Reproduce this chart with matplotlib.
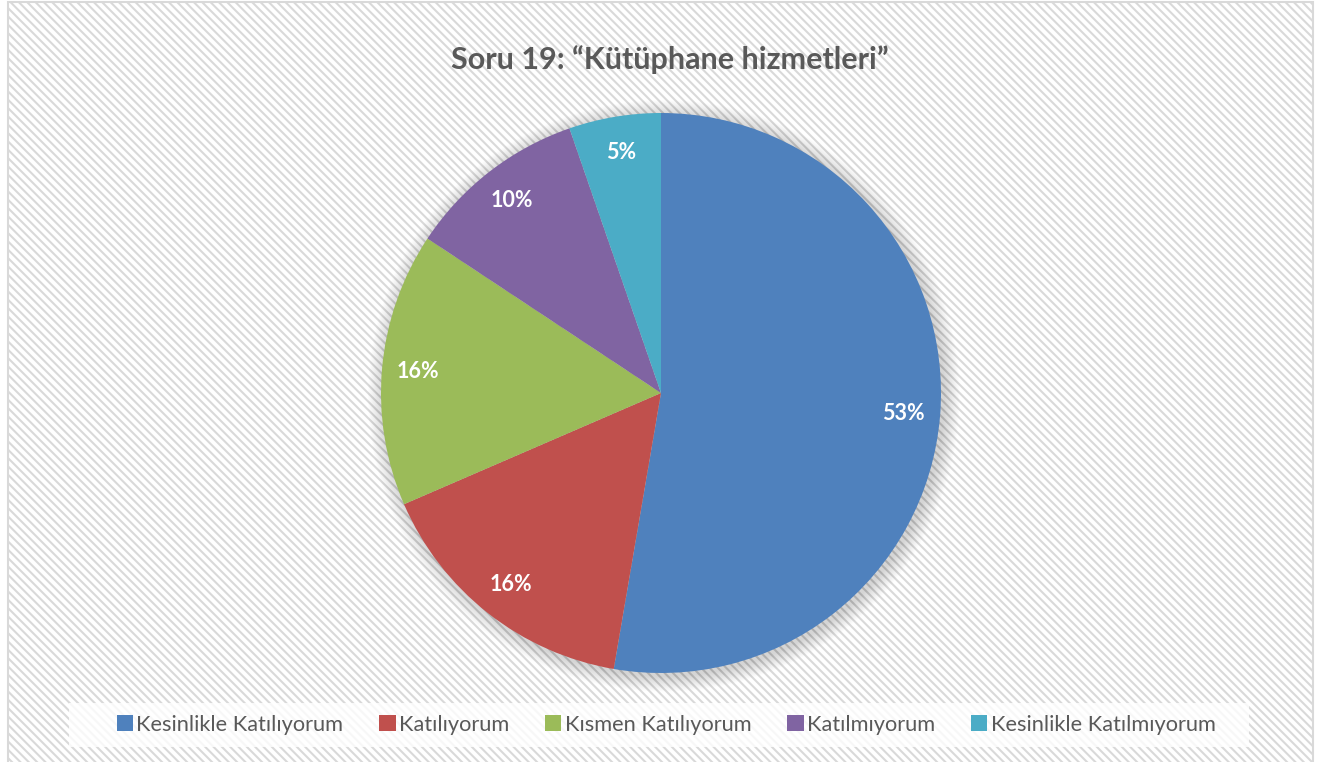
import matplotlib.pyplot as plt
from matplotlib.patches import Rectangle, Circle

plt.rcParams['font.family'] = ['Lato', 'DejaVu Sans']
plt.rcParams['hatch.linewidth'] = 1.5
plt.rcParams['hatch.color'] = '#f6f6f6'

# Data
categories = ["Kesinlikle Katılıyorum", "Katılıyorum", "Kısmen Katılıyorum",
              "Katılmıyorum", "Kesinlikle Katılmıyorum"]
values = [52.7, 15.8, 15.8, 10.4, 5.3]
colors = ["#4F81BD", "#C0504D", "#9BBB59", "#8064A2", "#4BACC6"]
title = "Soru 19: \u201cKütüphane hizmetleri\u201d"

W, H = 1317, 762
fig = plt.figure(figsize=(W / 100, H / 100), dpi=100)
fig.patch.set_facecolor("white")

# hatched chart background with light border
bg = Rectangle((8 / W, -0.01), (1313 - 8) / W, 1 - 2 / H + 0.01, transform=fig.transFigure,
               facecolor="white", edgecolor="#d9d9d9", linewidth=1.5, hatch="\\\\\\\\",
               zorder=-10)
fig.patches.append(bg)

# legend backdrop
leg_bg = Rectangle((69 / W, 1 - 747 / H), (1249 - 69) / W, 44 / H, transform=fig.transFigure,
                   facecolor="white", edgecolor="none", alpha=0.8, zorder=-5)
fig.patches.append(leg_bg)

fig.text(670 / W, 1 - 60 / H, title, ha="center", va="center", fontsize=22,
         fontweight="bold", color="#595959")

# pie axes: center (661, 393), radius 280 px, limits +/-1.1
cx, cy, r = 661, 393, 280
lim = 1.1
half = r * lim
ax = fig.add_axes([(cx - half) / W, (H - cy - half) / H, 2 * half / W, 2 * half / H])
ax.set_facecolor("none")

# soft shadow
for i in range(14):
    ax.add_patch(Circle((0.01, -0.01), 1 + 0.004 * (14 - i), facecolor="black",
                        edgecolor="none", alpha=0.012, zorder=0))

wedges, texts, autotexts = ax.pie(values, colors=colors, startangle=90, counterclock=False,
                                  autopct="%.0f%%", pctdistance=0.87, radius=1,
                                  wedgeprops=dict(linewidth=0),
                                  textprops=dict(color="white", fontsize=15.5, fontweight="bold"))
for w in wedges:
    w.set_zorder(2)
for t in autotexts:
    t.set_zorder(3)
ax.set_xlim(-lim, lim)
ax.set_ylim(-lim, lim)
ax.set_aspect("equal")
ax.axis("off")

leg = fig.legend(wedges, categories, loc="center", bbox_to_anchor=(666 / W, 1 - 725 / H),
                 ncol=5, frameon=False, fontsize=15.7, handlelength=0.75, handleheight=0.75,
                 handletextpad=0.15, columnspacing=1.65, labelcolor="#595959")

plt.savefig("out.png", dpi=100)
